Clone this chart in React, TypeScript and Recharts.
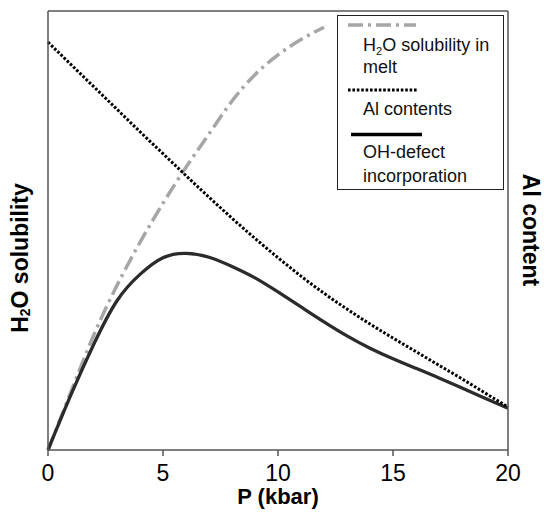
import React from 'react';
import { LineChart, Line, XAxis, YAxis, Legend, ReferenceLine } from 'recharts';

// Pressure (kbar)
const pressure = [0, 1, 2, 3, 4, 5, 6, 7, 8, 9, 10, 11, 12, 13, 14, 15, 16, 17, 18, 19, 20];
// OH-defect incorporation (relative units, left axis)
const ohDefect = [0, 12.6, 24.2, 34.0, 40.0, 43.8, 44.8, 43.9, 41.8, 39.2, 36.0, 32.6, 29.2, 26.0, 23.2, 20.8, 18.6, 16.4, 14.1, 11.8, 9.5];
// H2O solubility in melt (relative units, left axis), drawn up to 12 kbar
const h2oMelt = [0, 13.3, 26.3, 37.5, 47.3, 56.2, 64.4, 72, 79.5, 85.5, 90, 93.5, 96.3];
// Al contents (relative units, right axis)
const alContent = [92.9, 87.8, 82.7, 77.6, 72.5, 67.5, 62.5, 57.6, 52.8, 48.2, 43.8, 39.6, 35.7, 32.1, 28.7, 25.5, 22.4, 19.3, 16.2, 13.0, 9.8];
const xTicks = [0, 5, 10, 15, 20];

const data = pressure.map((p, i) => ({
  p,
  oh: ohDefect[i],
  al: alContent[i],
  h2o: i < h2oMelt.length ? h2oMelt[i] : null,
}));

const FONT = '"Liberation Sans", Arial, Helvetica, sans-serif';
const GRAY = '#a6a6a6';
const FRAME = '#555';

const LegendBox = () => (
  <div style={{ width: 167, height: 175, border: '1px solid #222', boxSizing: 'border-box', background: '#fff' }}>
    <svg width={165} height={173} style={{ display: 'block' }} fontFamily={FONT} fontSize={18} fill="#111">
      <line x1={10} x2={78} y1={9} y2={9} stroke={GRAY} strokeWidth={3.5} strokeDasharray="15 5 3 5" />
      <text x={25} y={35}>
        H<tspan fontSize={11} dy={4}>2</tspan>
        <tspan dy={-4}>O solubility in</tspan>
      </text>
      <text x={25} y={57}>melt</text>
      <line x1={10} x2={80} y1={74} y2={74} stroke="#000" strokeWidth={3} strokeDasharray="2.6 1.8" />
      <text x={25} y={99}>Al contents</text>
      <line x1={13} x2={84} y1={118.5} y2={118.5} stroke="#000" strokeWidth={3.4} />
      <text x={25} y={142}>OH-defect</text>
      <text x={25} y={166}>incorporation</text>
    </svg>
  </div>
);

const LeftLabel = () => (
  <text
    transform="translate(20,258) rotate(-90)"
    textAnchor="middle"
    dominantBaseline="central"
    fontFamily={FONT}
    fontSize={23}
    fontWeight="bold"
    fill="#000"
  >
    H<tspan fontSize={14} dy={5}>2</tspan>
    <tspan dy={-5}>O solubility</tspan>
  </text>
);

const RightLabel = () => (
  <text
    transform="translate(531,230) rotate(90)"
    textAnchor="middle"
    dominantBaseline="central"
    fontFamily={FONT}
    fontSize={23}
    fontWeight="bold"
    fill="#000"
  >
    Al content
  </text>
);

const BottomLabel = () => (
  <text x={278} y={504} textAnchor="middle" fontFamily={FONT} fontSize={22} fontWeight="bold" fill="#000">
    P (kbar)
  </text>
);

export default function App() {
  return (
    <div style={{ width: 547, height: 512, background: '#fff' }}>
      <style>{`body{margin:0;background:#fff;}`}</style>
      <LineChart
        width={547}
        height={512}
        data={data}
        margin={{ top: 11, right: 0, bottom: 0, left: 0 }}
      >
        <XAxis
          dataKey="p"
          type="number"
          domain={[0, 20]}
          ticks={xTicks}
          height={62}
          tickSize={6}
          tickMargin={9}
          stroke={FRAME}
          strokeWidth={1.5}
          tick={{ fill: '#000', fontSize: 23, fontFamily: FONT }}
          label={BottomLabel}
        />
        <YAxis
          yAxisId="left"
          domain={[0, 100]}
          width={48}
          tick={false}
          tickLine={false}
          stroke={FRAME}
          strokeWidth={1.5}
          label={LeftLabel}
        />
        <YAxis
          yAxisId="right"
          orientation="right"
          domain={[0, 100]}
          width={39}
          tick={false}
          tickLine={false}
          stroke={FRAME}
          strokeWidth={1.5}
          label={RightLabel}
        />
        <ReferenceLine yAxisId="left" y={100} stroke={FRAME} strokeWidth={1.5} />
        <Line
          yAxisId="left"
          type="natural"
          dataKey="h2o"
          stroke={GRAY}
          strokeWidth={3.5}
          strokeDasharray="15 5 3 5"
          dot={false}
          isAnimationActive={false}
        />
        <Line
          yAxisId="left"
          type="natural"
          dataKey="oh"
          stroke="#2b2b2b"
          strokeWidth={3.3}
          dot={false}
          isAnimationActive={false}
        />
        <Line
          yAxisId="right"
          type="natural"
          dataKey="al"
          stroke="#000"
          strokeWidth={3}
          strokeDasharray="2.6 1.8"
          dot={false}
          isAnimationActive={false}
        />
        <Legend
          layout="vertical"
          align="center"
          verticalAlign="middle"
          content={LegendBox}
          wrapperStyle={{ left: 337, top: 15, width: 167, height: 175 }}
        />
      </LineChart>
    </div>
  );
}
